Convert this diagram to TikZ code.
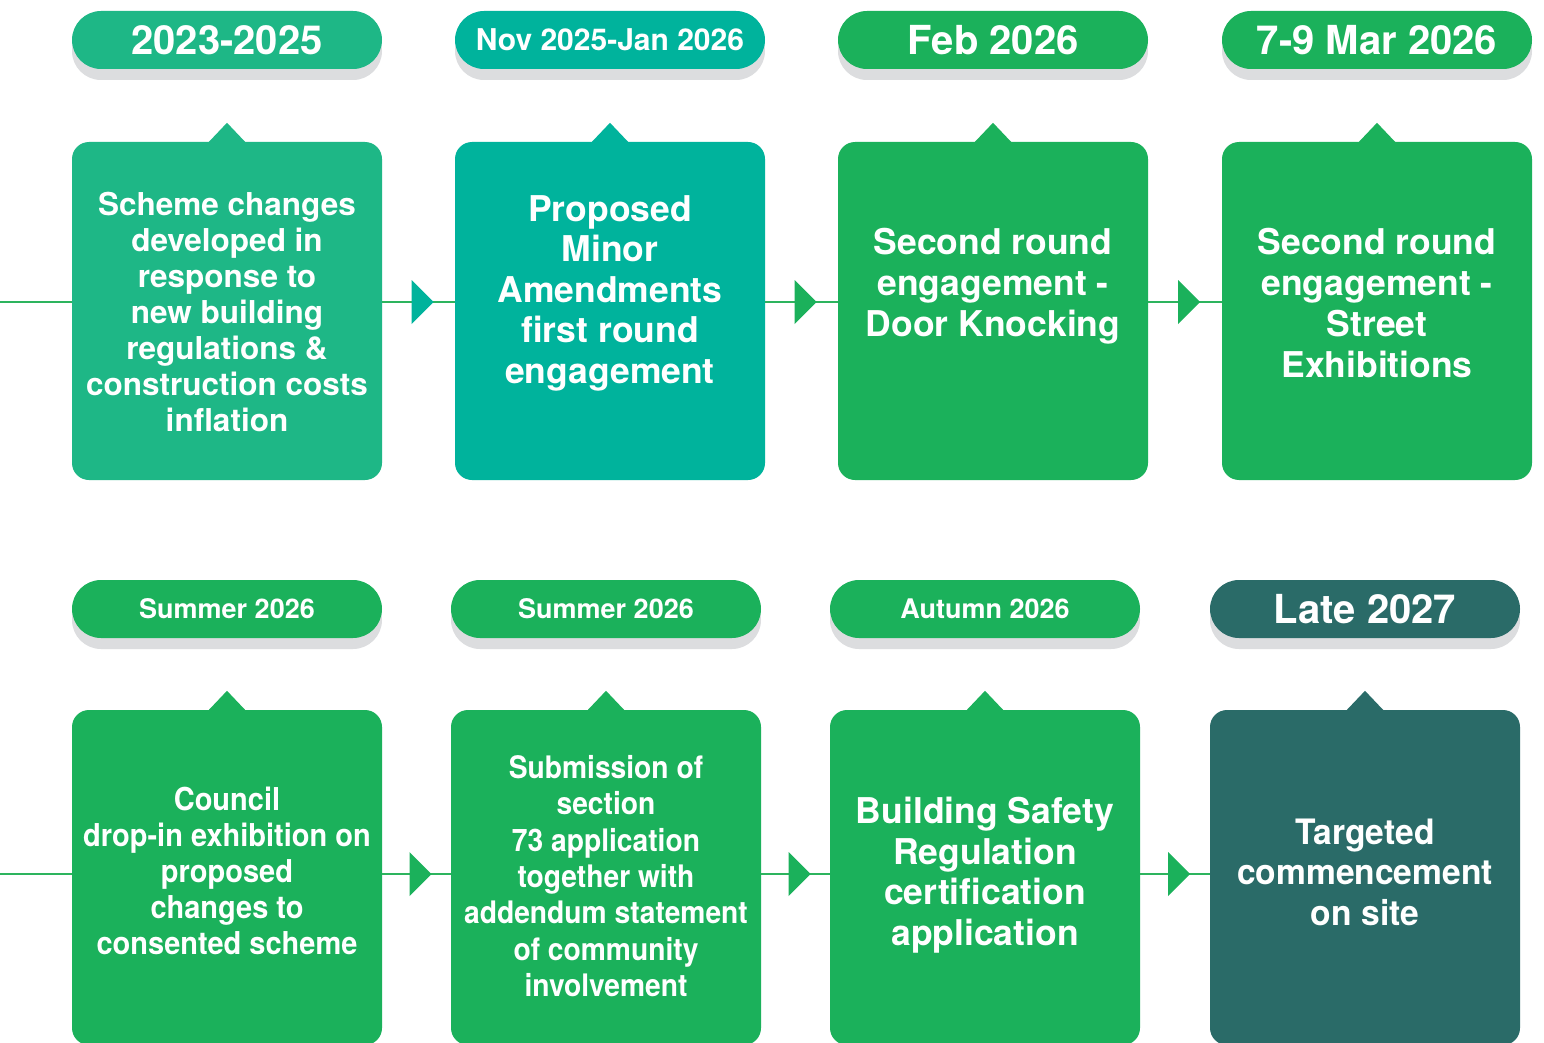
\documentclass[tikz,border=0pt]{standalone}
\usepackage{fontspec}
\setmainfont{TeX Gyre Heros}
\usetikzlibrary{calc,shadows}

\definecolor{cSea}{HTML}{1EB786}
\definecolor{cTeal}{HTML}{00B39C}
\definecolor{cGreen}{HTML}{1BB15B}
\definecolor{cDark}{HTML}{2A6B68}
\definecolor{cShade}{HTML}{DCDDDF}
\definecolor{cLine}{HTML}{2DB45E}

\newcommand{\fsz}[2]{\fontsize{#1}{#2}\selectfont\bfseries}

\tikzset{
  pill/.style={rounded corners=29pt, minimum width=310pt, minimum height=58pt,
    inner sep=0pt, text=white, fill=#1,
    drop shadow={shadow xshift=0pt, shadow yshift=-11pt, fill=cShade, opacity=1}},
  card/.style={rounded corners=17pt, minimum width=310pt, inner sep=0pt, fill=#1},
  cardtext/.style={text=white, align=center, inner sep=0pt},
  link/.style={draw=cLine, line width=2pt},
}

% notch on top of a card
\newcommand{\notch}[2]{%
  \fill[#2] ($(#1.north)+(-19,1)$) -- ($(#1.north)+(0,-19)$) -- ($(#1.north)+(19,1)$) -- cycle;}
% triangular marker on a link
\newcommand{\marker}[2]{%
  \fill[#2] ($(#1)+(-7,-22)$) -- ($(#1)+(15,0)$) -- ($(#1)+(-7,22)$) -- cycle;}

\begin{document}
\begin{tikzpicture}[x=1pt,y=-1pt]
\useasboundingbox[fill=white] (0,0) rectangle (1544,1043);

% ---------- upper row ----------
\coordinate (s1) at (0,302);
\coordinate (s2) at (0,874);

\node[card=cSea,   minimum height=338pt] (b1) at (227,311) {};
\node[card=cTeal,  minimum height=338pt] (b2) at (610,311) {};
\node[card=cGreen, minimum height=338pt] (b3) at (993,311) {};
\node[card=cGreen, minimum height=338pt] (b4) at (1377,311) {};
\notch{b1}{cSea}\notch{b2}{cTeal}\notch{b3}{cGreen}\notch{b4}{cGreen}

\draw[link] (s1) -- (s1 -| b1.west);
\draw[link] (s1 -| b1.east) -- (s1 -| b2.west) coordinate[pos=0.5] (m1);
\draw[link] (s1 -| b2.east) -- (s1 -| b3.west) coordinate[pos=0.5] (m2);
\draw[link] (s1 -| b3.east) -- (s1 -| b4.west) coordinate[pos=0.5] (m3);
\marker{m1}{cTeal}\marker{m2}{cGreen}\marker{m3}{cGreen}

\node[pill=cSea]   (p1) at (227,40)  {\fsz{40}{44}2023-2025};
\node[pill=cTeal]  (p2) at (610,40)  {\fsz{30}{34}Nov 2025-Jan 2026};
\node[pill=cGreen] (p3) at (993,40)  {\fsz{40}{44}Feb 2026};
\node[pill=cGreen] (p4) at (1377,40) {\fsz{40}{44}7-9 Mar 2026};

\node[cardtext, font=\fsz{31.5}{36}] (t1) at (227,312)
  {Scheme changes\\developed in\\response to\\new building\\regulations \&\\construction costs\\inflation};
\node[cardtext, font=\fsz{35.5}{40.5}] (t2) at (610,293)
  {Proposed\\Minor\\Amendments\\first round\\engagement};
\node[cardtext, font=\fsz{35.5}{41}] (t3) at (993,286)
  {Second round\\engagement -\\Door Knocking};
\node[cardtext, font=\fsz{35.5}{41}] (t4) at (1377,303)
  {Second round\\engagement -\\Street\\Exhibitions};

% ---------- lower row ----------
\node[card=cGreen, minimum height=335pt] (c1) at (227,877.5) {};
\node[card=cGreen, minimum height=335pt] (c2) at (606,877.5) {};
\node[card=cGreen, minimum height=335pt] (c3) at (985,877.5) {};
\node[card=cDark,  minimum height=335pt] (c4) at (1365,877.5) {};
\notch{c1}{cGreen}\notch{c2}{cGreen}\notch{c3}{cGreen}\notch{c4}{cDark}

\draw[link] (s2) -- (s2 -| c1.west);
\draw[link] (s2 -| c1.east) -- (s2 -| c2.west) coordinate[pos=0.5] (n1);
\draw[link] (s2 -| c2.east) -- (s2 -| c3.west) coordinate[pos=0.5] (n2);
\draw[link] (s2 -| c3.east) -- (s2 -| c4.west) coordinate[pos=0.5] (n3);
\marker{n1}{cGreen}\marker{n2}{cGreen}\marker{n3}{cGreen}

\node[pill=cGreen] (q1) at (227,609)  {\fsz{27}{31}Summer 2026};
\node[pill=cGreen] (q2) at (606,609)  {\fsz{27}{31}Summer 2026};
\node[pill=cGreen] (q3) at (985,609)  {\fsz{27}{31}Autumn 2026};
\node[pill=cDark]  (q4) at (1365,609) {\fsz{40}{44}Late 2027};

\node[cardtext, font=\fsz{31.5}{36}\addfontfeature{FakeStretch=0.92}] (u1) at (227,871)
  {Council\\drop-in exhibition on\\proposed\\changes to\\consented scheme};
\node[cardtext, font=\fsz{31}{36.3}\addfontfeature{FakeStretch=0.91}] (u2) at (606,876)
  {Submission of\\section\\73 application\\together with\\addendum statement\\of community\\involvement};
\node[cardtext, font=\fsz{35.5}{40.7}] (u3) at (985,875)
  {Building Safety\\Regulation\\certification\\application};
\node[cardtext, font=\fsz{35}{40.5}\addfontfeature{FakeStretch=0.96}] (u4) at (1365,872)
  {Targeted\\commencement\\on site};
\end{tikzpicture}
\end{document}
